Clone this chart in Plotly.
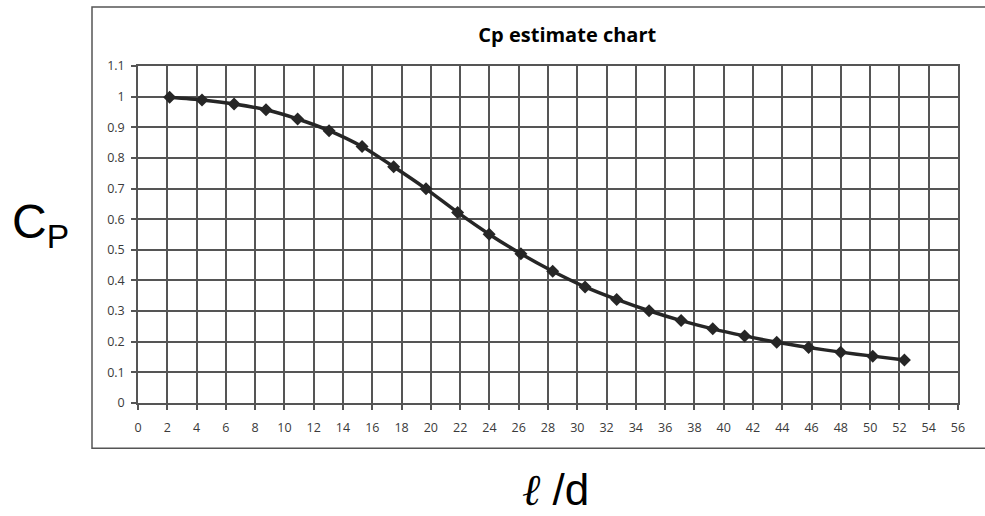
import plotly.graph_objects as go

ratio_ld = [2.16, 4.37, 6.56, 8.74, 10.9, 13.05, 15.3, 17.46, 19.67, 21.83, 23.98, 26.15,
            28.32, 30.53, 32.69, 34.9, 37.09, 39.25, 41.43, 43.62, 45.8, 47.99, 50.18, 52.34]
cp_values = [0.998, 0.989, 0.976, 0.957, 0.927, 0.889, 0.837, 0.771, 0.699, 0.622, 0.551, 0.487,
             0.430, 0.379, 0.338, 0.301, 0.269, 0.242, 0.219, 0.198, 0.181, 0.166, 0.153, 0.140]

x_ticks = list(range(0, 57, 2))
y_ticks = [0, 0.1, 0.2, 0.3, 0.4, 0.5, 0.6, 0.7, 0.8, 0.9, 1, 1.1]
y_tick_text = ["0", "0.1", "0.2", "0.3", "0.4", "0.5", "0.6", "0.7", "0.8", "0.9", "1", "1.1"]

grid_col = "#555555"
tick_font = dict(family="Open Sans, DejaVu Sans, sans-serif", size=12.5, color="#3a3a3a")

fig = go.Figure()
fig.add_trace(go.Scatter(
    x=ratio_ld, y=cp_values, mode="lines+markers",
    line=dict(color="#262626", width=3.5, shape="spline", smoothing=0.6),
    marker=dict(symbol="diamond", size=10, color="#262626"),
    showlegend=False, hoverinfo="x+y",
))

fig.update_layout(
    width=985, height=516,
    margin=dict(l=138, r=27, t=66, b=113),
    paper_bgcolor="white", plot_bgcolor="white",
    title=dict(text="<b>Cp estimate chart</b>", x=0.5759, xanchor="center",
               y=1 - 35 / 516, yanchor="middle",
               font=dict(family="Open Sans, Lato, sans-serif", size=20, color="#000000")),
    xaxis=dict(range=[0, 56], tickmode="array", tickvals=x_ticks,
               showgrid=True, gridcolor=grid_col, gridwidth=1.5,
               showline=True, linecolor=grid_col, linewidth=1.5, mirror=True,
               ticks="outside", ticklen=5, tickcolor=grid_col, tickwidth=1.5,
               ticklabelstandoff=7,
               tickfont=tick_font, zeroline=False, fixedrange=True),
    yaxis=dict(range=[0, 1.1], tickmode="array", tickvals=y_ticks, ticktext=y_tick_text,
               showgrid=True, gridcolor=grid_col, gridwidth=1.5,
               showline=True, linecolor=grid_col, linewidth=1.5, mirror=True,
               ticks="outside", ticklen=5, tickcolor=grid_col, tickwidth=1.5,
               ticklabelstandoff=4,
               tickfont=tick_font, zeroline=False, fixedrange=True),
)

# outer chart border (extends off the right side of the image)
fig.add_shape(type="rect", xref="paper", yref="paper",
              x0=(92 - 138) / 820, x1=(1000 - 138) / 820,
              y0=(402.7 - 448) / 336.7, y1=(402.7 - 7) / 336.7,
              line=dict(color="#555555", width=1.5), fillcolor="rgba(0,0,0,0)", layer="below")

fig.add_annotation(text="C<sub>P</sub>", xref="paper", yref="paper",
                   x=(40 - 138) / 820, y=(402.7 - 225) / 336.7,
                   xanchor="center", yanchor="middle", showarrow=False,
                   font=dict(family="Liberation Sans, Arial, sans-serif", size=48, color="#000000"))

fig.add_annotation(text="<span style=\"font-family:'Liberation Serif', serif\"><i>\u2113</i></span> /d",
                   xref="paper", yref="paper",
                   x=(555 - 138) / 820, y=(402.7 - 490) / 336.7,
                   xanchor="center", yanchor="middle", showarrow=False,
                   font=dict(family="Liberation Sans, Arial, sans-serif", size=44, color="#000000"))

fig.write_html("out.html", config={"displayModeBar": False},
               post_script="document.body.style.margin='0';document.body.style.overflow='hidden';")
